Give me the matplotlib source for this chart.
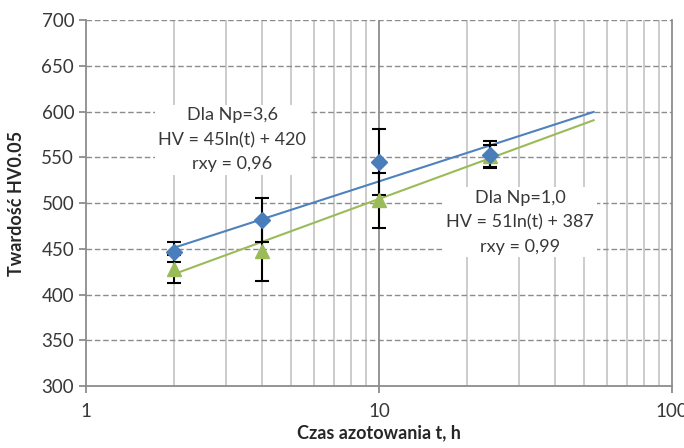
import numpy as np
import matplotlib.pyplot as plt

# data
t = [2, 4, 10, 24]
hv_36 = [446, 481, 545, 553]
err_36 = [11, 24, 36, 15]
hv_10 = [428, 448, 503, 551]
err_10 = [15, 33, 30, 12]

# trend lines (given equations)
t_fit = np.geomspace(2, 54, 100)
fit_36 = 45 * np.log(t_fit) + 420
fit_10 = 51 * np.log(t_fit) + 387

plt.rcParams['font.family'] = ['Lato', 'DejaVu Sans']
plt.rcParams['font.size'] = 12

fig = plt.figure(figsize=(6.84, 4.48), dpi=100)
ax = fig.add_axes([86/684, 62/448, 586/684, 366/448])

ax.set_xscale('log')
ax.set_xlim(1, 100)
ax.set_ylim(300, 700)

# grid
for v in list(range(2, 10)) + list(range(20, 100, 10)):
    ax.axvline(v, color='#c8c8c8', lw=1.3, zorder=0)
ax.axvline(10, color='#8c8c8c', lw=1.3, zorder=0)
for h in range(350, 701, 50):
    ax.axhline(h, color='#8c8c8c', lw=1.0, ls=(0, (4, 2)), zorder=0)

ax.plot(t_fit, fit_36, color='#4f81bd', lw=1.5, zorder=2)
ax.plot(t_fit, fit_10, color='#9bbb59', lw=1.5, zorder=2)

ax.errorbar(t, hv_10, yerr=err_10, fmt='none', ecolor='black', elinewidth=1.5, capsize=5, capthick=1.5, zorder=3)
ax.errorbar(t, hv_36, yerr=err_36, fmt='none', ecolor='black', elinewidth=1.5, capsize=5, capthick=1.5, zorder=3)
ax.plot(t, hv_10, ls='none', marker='^', ms=10, color='#9bbb59', zorder=4)
ax.plot(t, hv_36, ls='none', marker='D', ms=8, color='#4a7ebb', zorder=5)

ax.text(3.15, 569, 'Dla Np=3,6\nHV = 45ln(t) + 420\nrxy = 0,96', ha='center', va='center',
        fontsize=13, color='#383838', linespacing=1.65,
        bbox=dict(facecolor='white', edgecolor='none', pad=2), zorder=6)
ax.text(30.3, 479, 'Dla Np=1,0\nHV = 51ln(t) + 387\nrxy = 0,99', ha='center', va='center',
        fontsize=13, color='#383838', linespacing=1.65,
        bbox=dict(facecolor='white', edgecolor='none', pad=2), zorder=6)

ax.set_yticks(range(300, 701, 50))
ax.set_xticks([1, 10, 100])
ax.set_xticklabels(['1', '10', '100'])
ax.xaxis.set_minor_locator(plt.NullLocator())
ax.tick_params(axis='both', colors='#8c8c8c', labelcolor='#383838', labelsize=13.5, length=5, width=1.3)
ax.tick_params(axis='x', pad=7)

for s in ['left', 'bottom', 'right']:
    ax.spines[s].set_color('#8c8c8c')
    ax.spines[s].set_linewidth(1.3)
ax.spines['top'].set_visible(False)

ax.set_ylabel('Twardość HV0.05', fontweight='bold', fontsize=13, color='#262626', labelpad=12)
ax.set_xlabel('Czas azotowania t, h', fontweight='bold', fontsize=13, color='#262626', labelpad=3)

fig.savefig('out.png', dpi=100)
